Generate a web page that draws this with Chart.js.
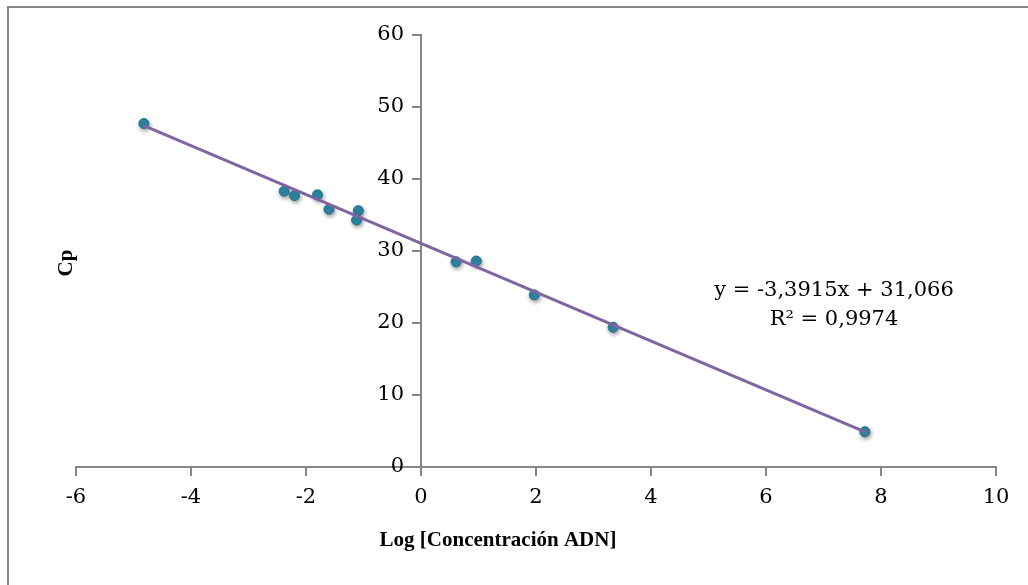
<!DOCTYPE html>
<html>
<head>
<meta charset="utf-8">
<script src="https://cdn.jsdelivr.net/npm/chart.js@4.4.1/dist/chart.umd.min.js"></script>
<style>
  html, body { margin: 0; padding: 0; background: #ffffff; }
  #wrap { position: relative; width: 1028px; height: 585px; }
  canvas { display: block; }
</style>
</head>
<body>
<div id="wrap"><canvas id="c" width="1028" height="585"></canvas></div>
<script>
// ---- data ----
const logConc = [-4.82, -2.38, -2.20, -1.80, -1.60, -1.09, -1.12, 0.61, 0.96, 1.97, 3.34, 7.72];
const cpValues = [47.7, 38.3, 37.7, 37.8, 35.8, 35.6, 34.3, 28.5, 28.6, 23.9, 19.4, 4.9];
const trendX = [-4.82, 7.72];
const trendY = [47.4, 4.88];
const xTickValues = [-6, -4, -2, 0, 2, 4, 6, 8, 10];
const yTickValues = [0, 10, 20, 30, 40, 50, 60];
const xTitle = 'Log [Concentración ADN]';
const yTitle = 'Cp';
const equationLines = ['y = -3,3915x + 31,066', 'R² = 0,9974'];

const AXIS_GREY = '#868686';
const FONT = '"DejaVu Serif", "Liberation Serif", serif';
const TITLE_FONT = '"Liberation Serif", "DejaVu Serif", serif';

const scatterPts = logConc.map((x, i) => ({ x: x, y: cpValues[i] }));
const trendPts = trendX.map((x, i) => ({ x: x, y: trendY[i] }));

const shadowPlugin = {
  id: 'markerShadow',
  beforeDatasetDraw(chart, args) {
    if (args.index === 0) {
      const ctx = chart.ctx;
      ctx.save();
      ctx.shadowColor = 'rgba(0,0,0,0.4)';
      ctx.shadowBlur = 4;
      ctx.shadowOffsetX = 1;
      ctx.shadowOffsetY = 2;
    }
  },
  afterDatasetDraw(chart, args) {
    if (args.index === 0) chart.ctx.restore();
  }
};

// y axis crosses at x = 0: move its tick labels to the left of its tick marks
const yLabelShift = {
  id: 'yLabelShift',
  beforeDraw(chart) {
    const items = chart.scales.y.getLabelItems();
    if (items._shifted) return;
    items.forEach(it => { it.options.translation[0] -= 17; });
    items._shifted = true;
  }
};

const textPlugin = {
  id: 'texts',
  afterDraw(chart) {
    const ctx = chart.ctx;
    ctx.save();
    // frame (top and left edge of the chart border)
    ctx.strokeStyle = AXIS_GREY;
    ctx.lineWidth = 2;
    ctx.beginPath();
    ctx.moveTo(8, 585);
    ctx.lineTo(8, 7);
    ctx.lineTo(1028, 7);
    ctx.stroke();

    ctx.fillStyle = '#000000';
    // axis titles
    ctx.font = 'bold 21px ' + TITLE_FONT;
    ctx.textAlign = 'center';
    ctx.textBaseline = 'middle';
    ctx.fillText(xTitle, 498, 541);
    ctx.save();
    ctx.translate(67, 263);
    ctx.rotate(-Math.PI / 2);
    ctx.fillText(yTitle, 0, 0);
    ctx.restore();

    // trendline equation
    ctx.font = '21px ' + FONT;
    ctx.fillText(equationLines[0], 834, 291);
    ctx.fillText(equationLines[1], 834, 320);
    ctx.restore();
  }
};

new Chart(document.getElementById('c'), {
  type: 'scatter',
  data: {
    datasets: [
      {
        label: 'Cp',
        data: scatterPts,
        backgroundColor: '#2F88A5',
        borderColor: '#256F88',
        borderWidth: 1,
        pointRadius: 5,
        pointHoverRadius: 5,
        order: 2
      },
      {
        label: 'Tendencia',
        type: 'line',
        data: trendPts,
        borderColor: '#8064A2',
        borderWidth: 3,
        pointRadius: 0,
        fill: false,
        tension: 0,
        order: 1
      }
    ]
  },
  options: {
    responsive: false,
    animation: false,
    events: [],
    layout: { padding: { left: 76, right: 32, top: 35, bottom: 118 } },
    plugins: {
      legend: { display: false },
      tooltip: { enabled: false },
      title: { display: false }
    },
    scales: {
      x: {
        type: 'linear',
        min: -6,
        max: 10,
        position: { y: 0 },
        afterBuildTicks(scale) { scale.ticks = xTickValues.map(v => ({ value: v })); },
        ticks: {
          color: '#000000',
          font: { family: FONT, size: 21 },
          padding: 10,
          maxRotation: 0
        },
        grid: {
          display: true,
          drawOnChartArea: false,
          drawTicks: true,
          tickLength: 8,
          color: AXIS_GREY,
          lineWidth: 2
        },
        border: { display: true, color: AXIS_GREY, width: 2 }
      },
      y: {
        type: 'linear',
        min: 0,
        max: 60,
        position: { x: 0 },
        afterBuildTicks(scale) { scale.ticks = yTickValues.map(v => ({ value: v })); },
        ticks: {
          color: '#000000',
          font: { family: FONT, size: 21 },
          padding: 16
        },
        grid: {
          display: true,
          drawOnChartArea: false,
          drawTicks: true,
          tickLength: 8,
          color: AXIS_GREY,
          lineWidth: 2
        },
        border: { display: true, color: AXIS_GREY, width: 2 }
      }
    }
  },
  plugins: [shadowPlugin, yLabelShift, textPlugin]
});
</script>
</body>
</html>
